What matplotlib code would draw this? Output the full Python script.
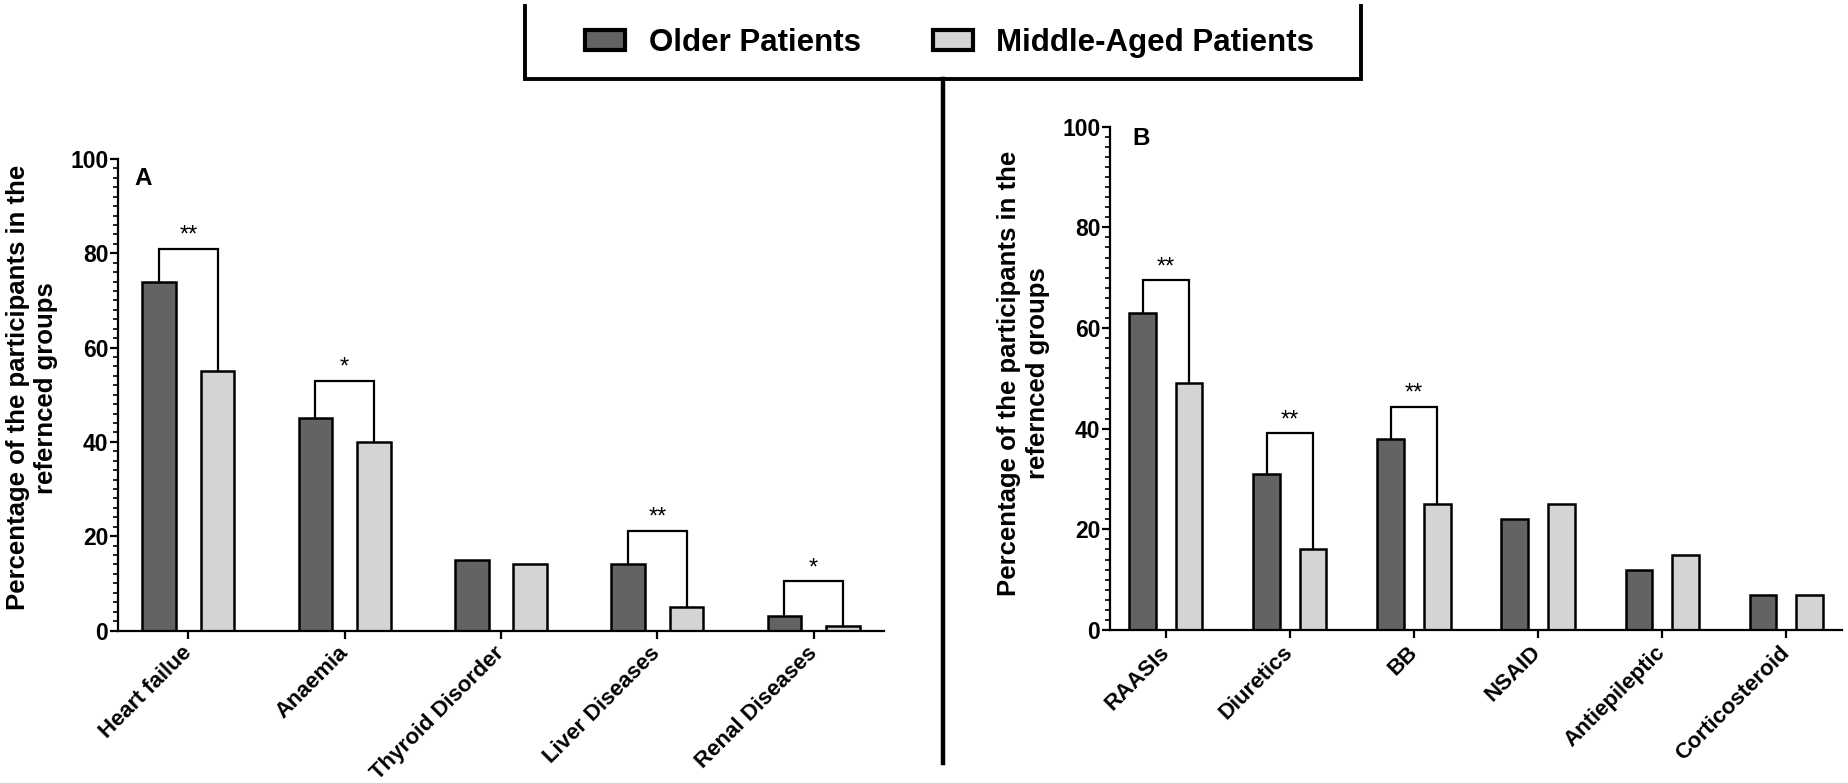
import numpy as np
import matplotlib
matplotlib.use("Agg")
import matplotlib.pyplot as plt
from matplotlib.lines import Line2D
from matplotlib.patches import Patch
from matplotlib.ticker import MultipleLocator

plt.rcParams['font.family'] = ['Liberation Sans', 'DejaVu Sans']

# panel A: comorbidities
cats_a = ["Heart failue", "Anaemia", "Thyroid Disorder", "Liver Diseases", "Renal Diseases"]
older_a = [74, 45, 15, 14, 3]
middle_a = [55, 40, 14, 5, 1]
sig_a = ["**", "*", "", "**", "*"]
bracket_a = [81, 53, None, 21.2, 10.5]

# panel B: medications
cats_b = ["RAASIs", "Diuretics", "BB", "NSAID", "Antiepileptic", "Corticosteroid"]
older_b = [63, 31, 38, 22, 12, 7]
middle_b = [49, 16, 25, 25, 15, 7]
sig_b = ["**", "**", "**", "", "", ""]
bracket_b = [69.5, 39.1, 44.4, None, None, None]

series_names = ["Older Patients", "Middle-Aged Patients"]
dark = "#636363"
light = "#d4d4d4"

W, H = 1848, 783
fig = plt.figure(figsize=(W / 100, H / 100), dpi=100)

ylabel = "Percentage of the participants in the\nrefernced groups"


def draw_panel(ax, cats, older, middle, sig, brackets, letter, letter_pos):
    x = np.arange(len(cats))
    off = 0.187
    bw = 0.215
    ax.bar(x - off, older, bw, color=dark, edgecolor="black", linewidth=1.8, zorder=2)
    ax.bar(x + off, middle, bw, color=light, edgecolor="black", linewidth=1.8, zorder=2)

    # significance brackets
    for i in range(len(cats)):
        if brackets[i] is None:
            continue
        h = brackets[i]
        ax.plot([i - off, i - off, i + off, i + off], [older[i], h, h, middle[i]],
                color="black", lw=1.6, zorder=3, solid_joinstyle="miter")
        ax.annotate(sig[i], xy=(i, h), xytext=(0, 5), textcoords="offset points",
                    ha="center", va="baseline", fontsize=17)

    ax.set_xlim(-0.45, len(cats) - 0.55)
    ax.set_ylim(0, 100)
    ax.yaxis.set_major_locator(MultipleLocator(20))
    ax.yaxis.set_minor_locator(MultipleLocator(2))
    ax.set_xticks(x)
    ax.set_xticklabels(cats, rotation=45, ha="right", va="center",
                       rotation_mode="anchor", fontsize=16, fontweight="bold")
    for lab in ax.get_yticklabels():
        lab.set_fontsize(16.5)
        lab.set_fontweight("bold")
    ax.tick_params(axis="y", which="major", length=6, width=1.6, pad=1)
    ax.tick_params(axis="y", which="minor", length=3.5, width=1.2)
    ax.tick_params(axis="x", which="major", length=6, width=1.6, pad=8)
    for s in ["top", "right"]:
        ax.spines[s].set_visible(False)
    for s in ["left", "bottom"]:
        ax.spines[s].set_linewidth(1.6)
    ax.set_ylabel(ylabel, fontsize=18.5, fontweight="bold", linespacing=1.25)
    ax.text(letter_pos[0], letter_pos[1], letter, transform=ax.transAxes,
            fontsize=17.5, fontweight="bold", va="baseline", ha="left")


ax_a = fig.add_axes([118 / W, 1 - 630.5 / H, 766 / W, 471.5 / H])
draw_panel(ax_a, cats_a, older_a, middle_a, sig_a, bracket_a, "A", (0.022, 0.945))
ax_a.yaxis.set_label_coords(-0.078, 0.515)

ax_b = fig.add_axes([1110 / W, 1 - 630 / H, 732 / W, 503.3 / H])
draw_panel(ax_b, cats_b, older_b, middle_b, sig_b, bracket_b, "B", (0.030, 0.963))
ax_b.yaxis.set_label_coords(-0.082, 0.51)

# open legend frame and the divider between panels
def fx(px):
    return px / W


def fy(py):
    return 1 - py / H


lw_frame = 2.8
fig.add_artist(Line2D([fx(525), fx(525), fx(1361), fx(1361)],
                      [fy(6), fy(79), fy(79), fy(6)], color="black", lw=lw_frame,
                      solid_joinstyle="miter", transform=fig.transFigure))
fig.add_artist(Line2D([fx(943), fx(943)], [fy(79), fy(763)], color="black",
                      lw=3.2, transform=fig.transFigure))

handles = [Patch(facecolor=dark, edgecolor="black", linewidth=3),
           Patch(facecolor=light, edgecolor="black", linewidth=3)]
fig.legend(handles, series_names, loc="center left", ncol=2,
           bbox_to_anchor=(fx(585), fy(43)), frameon=False,
           prop={"size": 22.5, "weight": "bold"}, handlelength=1.28, handleheight=0.6,
           handletextpad=0.76, columnspacing=2.3, borderpad=0, borderaxespad=0)

fig.savefig("out.png", dpi=100)
